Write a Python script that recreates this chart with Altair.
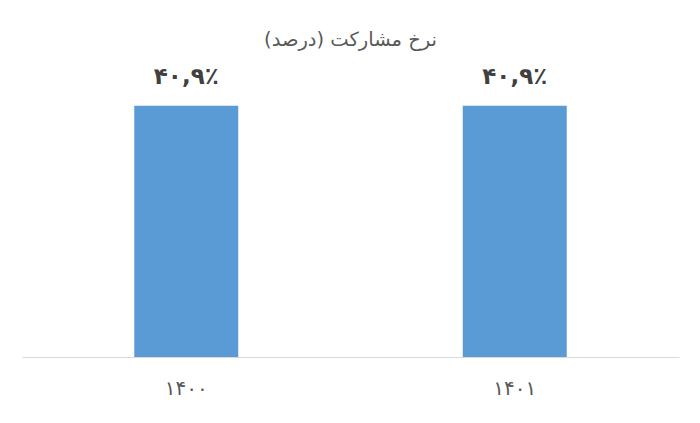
import pandas as pd
import altair as alt

# values
years = ["۱۴۰۰", "۱۴۰۱"]
rates = [40.9, 40.9]
rate_labels = ["۴۰,۹٪", "۴۰,۹٪"]

df = pd.DataFrame({"year": years, "rate": rates, "label": rate_labels})

FONT = "DejaVu Sans"

base = alt.Chart(df).encode(
    x=alt.X(
        "year:N",
        sort=years,
        scale=alt.Scale(paddingInner=0, paddingOuter=0),
        axis=alt.Axis(
            title=None,
            labelAngle=0,
            labelFont=FONT,
            labelFontSize=20,
            labelColor="#595959",
            labelPadding=21,
            ticks=False,
            domainColor="#D9D9D9",
            domainWidth=1.2,
        ),
    ),
    y=alt.Y("rate:Q", scale=alt.Scale(domain=[0, 50]), axis=None),
)

bars = base.mark_bar(size=104, color="#5B9BD5")

labels = base.mark_text(
    dy=-17,
    baseline="bottom",
    font=FONT,
    fontSize=23,
    fontWeight="bold",
    color="#404040",
).encode(text="label:N")

chart = (
    (bars + labels)
    .properties(
        width=657,
        height=307,
        title=alt.TitleParams(
            "نرخ مشارکت (درصد)",
            font=FONT,
            fontSize=19.5,
            fontWeight="normal",
            color="#595959",
            offset=0,
        ),
        autosize=alt.AutoSizeParams(type="none"),
        padding={"left": 14, "right": 13, "top": 42, "bottom": 58},
    )
    .configure_view(stroke=None)
)

chart.save("out.html", embed_options={"renderer": "svg", "actions": False})
